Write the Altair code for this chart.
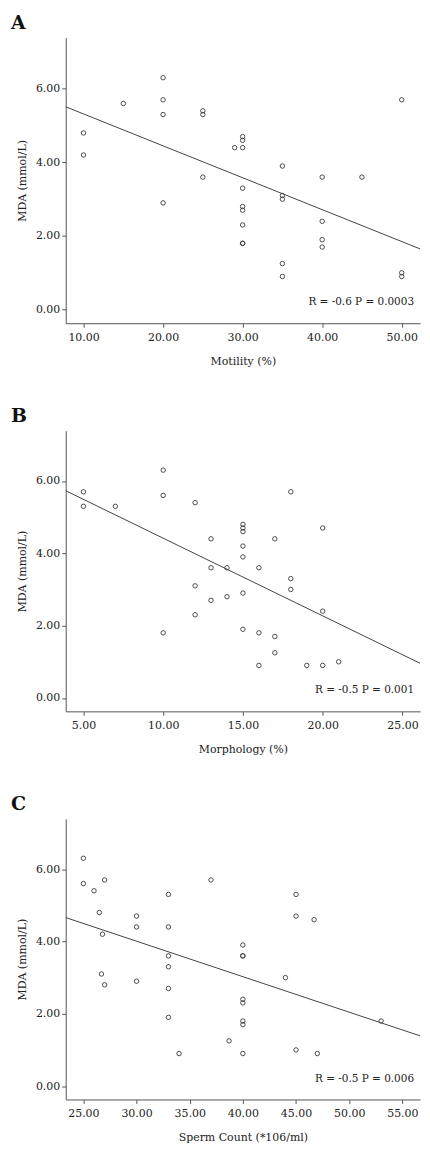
import altair as alt
import pandas as pd

# ---------- Panel A: Motility ----------
mot_x = [10, 10, 15, 20, 20, 20, 20, 25, 25, 25, 29,
         30, 30, 30, 30, 30, 30, 30, 30, 30,
         35, 35, 35, 35, 35, 40, 40, 40, 40, 45, 50, 50, 50]
mot_y = [4.8, 4.2, 5.6, 6.3, 5.7, 5.3, 2.9, 5.4, 5.3, 3.6, 4.4,
         4.7, 4.6, 4.4, 3.3, 2.8, 2.7, 2.3, 1.8, 1.8,
         3.9, 3.1, 3.0, 1.25, 0.9, 3.6, 2.4, 1.9, 1.7, 3.6, 5.7, 1.0, 0.9]
mot_fit_x = [7.76, 52.3]
mot_fit_y = [5.51, 1.65]
mot_ticks = [10, 20, 30, 40, 50]

# ---------- Panel B: Morphology ----------
mor_x = [5, 5, 7, 10, 10, 10, 12, 12, 12, 13, 13, 13, 14, 14,
         15, 15, 15, 15, 15, 15, 15, 16, 16, 16, 17, 17, 17,
         18, 18, 18, 19, 20, 20, 20, 21]
mor_y = [5.7, 5.3, 5.3, 6.3, 5.6, 1.8, 5.4, 3.1, 2.3, 4.4, 3.6, 2.7, 3.6, 2.8,
         4.8, 4.7, 4.6, 4.2, 3.9, 2.9, 1.9, 3.6, 1.8, 0.9, 4.4, 1.7, 1.25,
         5.7, 3.3, 3.0, 0.9, 4.7, 2.4, 0.9, 1.0]
mor_fit_x = [3.89, 26.1]
mor_fit_y = [5.73, 0.96]
mor_ticks = [5, 10, 15, 20, 25]

# ---------- Panel C: Sperm count ----------
cnt_x = [25, 25, 26, 27, 26.5, 26.8, 30, 30, 33, 33, 37, 40, 45, 45, 46.7,
         40, 40, 33, 33, 26.7, 27, 30, 33, 44, 40, 40, 33, 53, 40, 40,
         38.7, 34, 40, 45, 47]
cnt_y = [6.3, 5.6, 5.4, 5.7, 4.8, 4.2, 4.7, 4.4, 5.3, 4.4, 5.7, 3.9, 5.3, 4.7, 4.6,
         3.6, 3.6, 3.6, 3.3, 3.1, 2.8, 2.9, 2.7, 3.0, 2.4, 2.3, 1.9, 1.8, 1.8, 1.7,
         1.25, 0.9, 0.9, 1.0, 0.9]
cnt_fit_x = [23.34, 56.66]
cnt_fit_y = [4.66, 1.39]
cnt_ticks = [25, 30, 35, 40, 45, 50, 55]

y_ticks = [0, 2, 4, 6]
y_domain = [-0.37, 7.39]

FONT = "DejaVu Serif"
INK = "#3a3a3a"
W = 356


def panel(xs, ys, fx, fy, ticks, xtitle, letter, annot, height):
    pts = pd.DataFrame({"x": xs, "y": ys})
    fit = pd.DataFrame({"x": fx, "y": fy})
    xdom = [fx[0], fx[1]]
    xsc = alt.Scale(domain=xdom, nice=False, zero=False)
    ysc = alt.Scale(domain=y_domain, nice=False, zero=False)
    xax = alt.Axis(values=ticks, format=".2f", title=xtitle)
    yax = alt.Axis(values=y_ticks, format=".2f", title="MDA (mmol/L)")

    points = alt.Chart(pts).mark_point(
        shape="circle", size=20, filled=False, color=INK, strokeWidth=0.9, opacity=1
    ).encode(
        x=alt.X("x:Q", scale=xsc, axis=xax),
        y=alt.Y("y:Q", scale=ysc, axis=yax),
    )
    line = alt.Chart(fit).mark_line(color="#444", strokeWidth=1).encode(
        x=alt.X("x:Q", scale=xsc),
        y=alt.Y("y:Q", scale=ysc),
    )
    note = alt.Chart(pd.DataFrame({"t": [annot]})).mark_text(
        align="right", baseline="middle", font=FONT, fontSize=10.5, color="#222"
    ).encode(
        text="t:N", x=alt.value(W - 6), y=alt.value(height - 21)
    )
    lab = alt.Chart(pd.DataFrame({"t": [letter]})).mark_text(
        align="left", baseline="alphabetic", font=FONT, fontSize=19,
        fontWeight="bold", color="#111"
    ).encode(
        text="t:N", x=alt.value(-55), y=alt.value(-9)
    )
    return alt.layer(line, points, note, lab).properties(width=W, height=height)


a = panel(mot_x, mot_y, mot_fit_x, mot_fit_y, mot_ticks, "Motility (%)", "A",
          "R = -0.6  P = 0.0003", 287)
b = panel(mor_x, mor_y, mor_fit_x, mor_fit_y, mor_ticks, "Morphology (%)", "B",
          "R = -0.5  P = 0.001", 282)
c = panel(cnt_x, cnt_y, cnt_fit_x, cnt_fit_y, cnt_ticks, "Sperm Count (*106/ml)", "C",
          "R = -0.5  P = 0.006", 282)

chart = alt.vconcat(a, b, c, spacing=41).properties(
    padding={"left": 3, "top": 3, "right": 0, "bottom": 0}
).configure_view(stroke=None).configure_axis(
    grid=False,
    domainColor="#555",
    tickColor="#555",
    tickSize=4,
    labelFont=FONT,
    labelFontSize=11,
    labelColor="#222",
    titleFont=FONT,
    titleFontSize=11,
    titleFontWeight="normal",
    titleColor="#222",
).configure_axisX(labelPadding=4, titlePadding=13).configure_axisY(labelPadding=2, titlePadding=8)

chart.save("out.html", embed_options={"renderer": "svg", "actions": False})
